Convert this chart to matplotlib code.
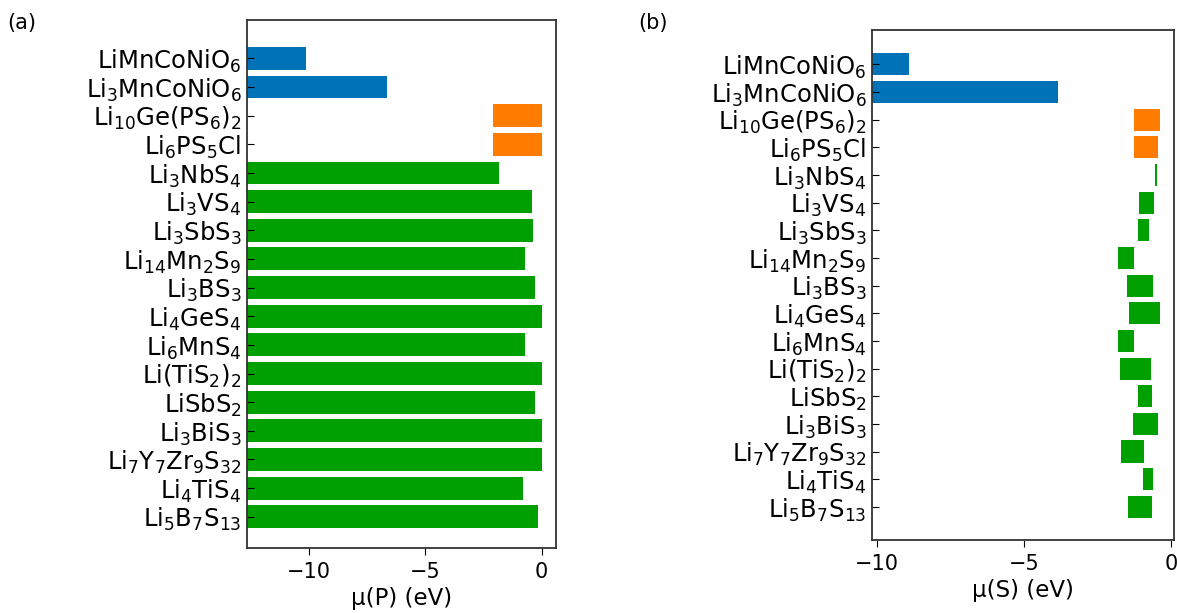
import matplotlib.pyplot as plt

plt.rcParams['mathtext.default'] = 'regular'

# compounds, top to bottom
names = ['LiMnCoNiO$_6$', 'Li$_3$MnCoNiO$_6$', 'Li$_{10}$Ge(PS$_6$)$_2$', 'Li$_6$PS$_5$Cl',
         'Li$_3$NbS$_4$', 'Li$_3$VS$_4$', 'Li$_3$SbS$_3$', 'Li$_{14}$Mn$_2$S$_9$', 'Li$_3$BS$_3$',
         'Li$_4$GeS$_4$', 'Li$_6$MnS$_4$', 'Li(TiS$_2$)$_2$', 'LiSbS$_2$', 'Li$_3$BiS$_3$',
         'Li$_7$Y$_7$Zr$_9$S$_{32}$', 'Li$_4$TiS$_4$', 'Li$_5$B$_7$S$_{13}$']
groups = ['b', 'b', 'o', 'o', 'g', 'g', 'g', 'g', 'g', 'g', 'g', 'g', 'g', 'g', 'g', 'g', 'g']

# stability window of mu(P), eV (low, high)
p_low = [-13.0, -13.0, -2.09, -2.09, -13.0, -13.0, -13.0, -13.0, -13.0,
         -13.0, -13.0, -13.0, -13.0, -13.0, -13.0, -13.0, -13.0]
p_high = [-10.14, -6.66, 0.0, 0.0, -1.84, -0.41, -0.37, -0.71, -0.30,
          0.0, -0.71, 0.0, -0.30, 0.0, 0.0, -0.79, -0.16]

# stability window of mu(S), eV (low, high)
s_low = [-10.5, -10.5, -1.26, -1.26, -0.53, -1.09, -1.11, -1.81, -1.49,
         -1.42, -1.81, -1.73, -1.10, -1.27, -1.69, -0.94, -1.47]
s_high = [-8.92, -3.84, -0.375, -0.42, -0.48, -0.58, -0.75, -1.26, -0.60,
          -0.36, -1.26, -0.66, -0.65, -0.42, -0.91, -0.59, -0.63]

colors = {'b': '#0072b8', 'o': '#ff7c00', 'g': '#00a000'}
bar_colors = [colors[g] for g in groups]
ypos = list(range(len(names)))

fig = plt.figure(figsize=(11.77, 6.13), dpi=100)
ax1 = fig.add_axes([0.2099, 0.106, 0.2622, 0.8614])
ax2 = fig.add_axes([0.7409, 0.119, 0.2566, 0.832])

for ax, lo, hi, xl, lab in [(ax1, p_low, p_high, (-12.65, 0.6), 'μ(P) (eV)'),
                            (ax2, s_low, s_high, (-10.16, 0.11), 'μ(S) (eV)')]:
    widths = [h - l for l, h in zip(lo, hi)]
    ax.barh(ypos, widths, left=lo, height=0.8, color=bar_colors)
    ax.set_yticks(ypos)
    ax.set_yticklabels(names, fontsize=17.5)
    ax.set_xlim(*xl)
    ax.set_xticks([-10, -5, 0])
    ax.set_xlabel(lab, fontsize=16.5, labelpad=4)
    ax.tick_params(axis='x', labelsize=15, direction='out', length=5, pad=5)
    ax.tick_params(axis='y', direction='in', length=5, pad=4)
    for s in ax.spines.values():
        s.set_color('#333333')
        s.set_linewidth(1.3)

ax1.set_ylim(17.09, -1.34)
ax2.set_ylim(17.2, -1.24)

fig.text(0.006, 0.979, '(a)', fontsize=15, va='top')
fig.text(0.542, 0.979, '(b)', fontsize=15, va='top')

plt.savefig('out.png')
